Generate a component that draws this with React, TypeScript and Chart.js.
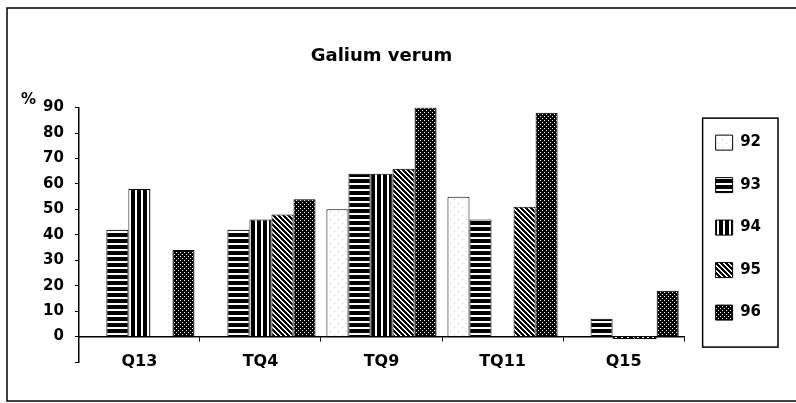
import React, { useEffect, useRef } from "react";
import { Chart, registerables } from "chart.js";

Chart.register(...registerables);

const categories = ["Q13", "TQ4", "TQ9", "TQ11", "Q15"];
const seriesNames = ["92", "93", "94", "95", "96"];
const values92 = [null, null, 50, 55, null];
const values93 = [42, 42, 64, 46, 7];
const values94 = [58, 46, 64, null, -1];
const values95 = [null, 48, 66, 51, -1];
const values96 = [34, 54, 90, 88, 18];
const yMin = -10;
const yMax = 90;
const yStep = 10;
const chartTitle = "Galium verum";
const yUnitLabel = "%";

const FONT = "'DejaVu Sans', 'Liberation Sans', Arial, sans-serif";

function makePattern(kind: string): any {
  const c = document.createElement("canvas");
  const size = kind === "h" ? 6 : kind === "v" ? 6 : kind === "white" ? 8 : kind === "d" ? 5 : 4;
  c.width = size;
  c.height = size;
  const g = c.getContext("2d")!;
  if (kind === "white") {
    g.fillStyle = "#fff";
    g.fillRect(0, 0, size, size);
    g.fillStyle = "#c8c8c8";
    g.fillRect(2, 3, 1, 1);
    g.fillRect(6, 7, 1, 1);
  } else {
    g.fillStyle = "#000";
    g.fillRect(0, 0, size, size);
    g.fillStyle = "#fff";
    if (kind === "h") g.fillRect(0, 3, size, 2);
    else if (kind === "v") g.fillRect(3, 0, 2, size);
    else if (kind === "d") {
      for (let i = 0; i < size; i++) {
        g.fillRect(i, i, 1, 1);
        g.fillRect((i + 1) % size, i, 1, 1);
      }
    } else if (kind === "dots") {
      g.fillRect(0, 0, 1, 1);
      g.fillRect(2, 2, 1, 1);
    }
  }
  return g.createPattern(c, "repeat");
}

const framePlugin = {
  id: "frameAndExtras",
  beforeDraw(chart: any) {
    const { ctx, width, height } = chart;
    ctx.save();
    ctx.fillStyle = "#fff";
    ctx.fillRect(0, 0, width, height);
    ctx.strokeStyle = "#000";
    ctx.lineWidth = 1.5;
    ctx.strokeRect(7, 8, width, height - 10);
    ctx.restore();
  },
  afterDraw(chart: any) {
    const { ctx } = chart;
    const lg = chart.legend;
    const hb = lg && lg.legendHitBoxes;
    ctx.save();
    if (hb && hb.length) {
      const first = hb[0];
      const last = hb[hb.length - 1];
      let right = 0;
      for (const h of hb) right = Math.max(right, h.left + h.width);
      const l = first.left - 13;
      const t = first.top - 17;
      const r = right + 17;
      const b = last.top + last.height + 27;
      ctx.strokeStyle = "#000";
      ctx.lineWidth = 1.5;
      ctx.strokeRect(l, t, r - l, b - t);
    }
    const ys = chart.scales.y;
    ctx.fillStyle = "#000";
    ctx.font = `bold 15px ${FONT}`;
    ctx.textAlign = "center";
    ctx.textBaseline = "middle";
    ctx.fillText(yUnitLabel, ys.left - 3.5, ys.getPixelForValue(yMax) - 7);
    ctx.restore();
  },
};

export default function App() {
  const ref = useRef<HTMLCanvasElement>(null);
  useEffect(() => {
    const canvas = ref.current!;
    const fills = [
      makePattern("white"),
      makePattern("h"),
      makePattern("v"),
      makePattern("d"),
      makePattern("dots"),
    ];
    const series = [values92, values93, values94, values95, values96];
    const chart = new Chart(canvas, {
      type: "bar",
      data: {
        labels: categories,
        datasets: series.map((vals, i) => ({
          label: seriesNames[i],
          data: vals as any,
          backgroundColor: fills[i],
          borderColor: "#000",
          borderWidth: 1,
          categoryPercentage: 0.91,
          barPercentage: 1,
        })),
      },
      options: {
        animation: false,
        responsive: false,
        maintainAspectRatio: false,
        layout: { padding: { left: 32, right: 25, top: 0, bottom: 41 } },
        plugins: {
          title: {
            display: true,
            text: chartTitle,
            fullSize: false,
            color: "#000",
            font: { family: FONT, size: 18, weight: "bold" },
            padding: { top: 46, bottom: 40 },
          },
          legend: {
            position: "right",
            align: "start",
            fullSize: false,
            labels: {
              color: "#000",
              font: { family: FONT, size: 15, weight: "bold" },
              boxWidth: 17,
              boxHeight: 15,
              padding: 27.5,
            },
          },
          tooltip: { enabled: false },
        },
        scales: {
          x: {
            position: { y: 0 } as any,
            grid: {
              display: true,
              drawOnChartArea: false,
              drawTicks: true,
              tickLength: 4,
              color: "#000",
              offset: true,
            },
            border: { display: true, color: "#000", width: 1.5 },
            ticks: {
              color: "#000",
              font: { family: FONT, size: 16, weight: "bold" },
              padding: 12,
              maxRotation: 0,
            },
          },
          y: {
            min: yMin,
            max: yMax,
            grid: { drawOnChartArea: false, tickLength: 4, color: "#000" },
            border: { display: true, color: "#000", width: 1.5 },
            ticks: {
              stepSize: yStep,
              color: "#000",
              font: { family: FONT, size: 15, weight: "bold" },
              padding: 11,
              callback: (v: any) => (Number(v) < 0 ? "" : String(v)),
            },
          },
          spacer: {
            type: "linear",
            position: "right",
            display: true,
            grid: { display: false },
            border: { display: false },
            ticks: { display: false },
            afterFit: (s: any) => {
              s.width = 4;
            },
          } as any,
        },
      },
      plugins: [framePlugin],
    });
    return () => chart.destroy();
  }, []);
  return (
    <div style={{ position: "fixed", left: 0, top: 0, width: 796, height: 403 }}>
      <canvas ref={ref} width={796} height={403} style={{ display: "block", width: 796, height: 403 }} />
    </div>
  );
}
